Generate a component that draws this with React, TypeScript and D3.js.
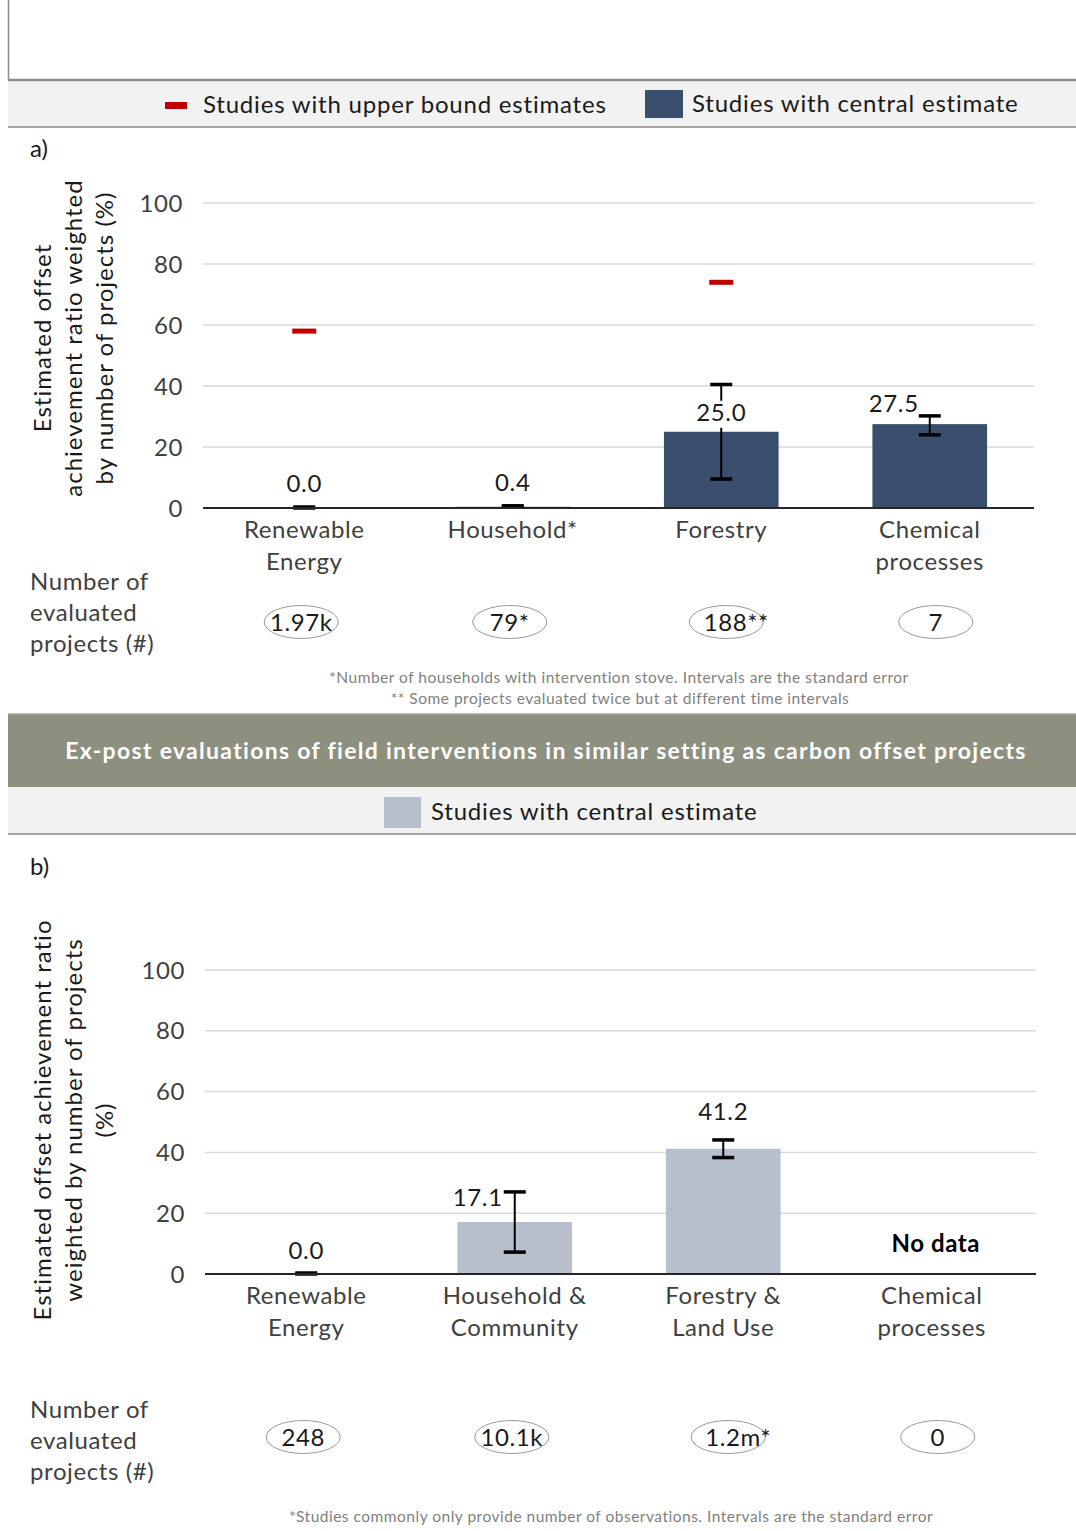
import React from "react";
import * as d3 from "d3";

// panel a: carbon offset project evaluations
const catsA = ["Renewable|Energy", "Household*", "Forestry", "Chemical|processes"];
const centralA = [0.0, 0.4, 25.0, 27.5];
const errLowA = [0, 0.4, 9.5, 24.0];
const errHighA = [0, 0.4, 40.5, 30.2];
const upperA = [58, null, 74, null];
const countsA = ["1.97k", "79*", "188**", "7"];

// panel b: ex-post field interventions
const catsB = ["Renewable|Energy", "Household &|Community", "Forestry &|Land Use", "Chemical|processes"];
const centralB = [0.0, 17.1, 41.2, null];
const errLowB = [0, 7.2, 38.3, null];
const errHighB = [0, 27.0, 44.1, null];
const countsB = ["248", "10.1k", "1.2m*", "0"];

const ticks = [0, 20, 40, 60, 80, 100];

const FONT = "Lato, 'Open Sans', sans-serif";
const TXT = "#404040";
const NAVY = "#3a4f6e";
const LIGHT = "#b8bfcc";
const RED = "#c00000";
const LS = 0.6;

// label nudges (px) like the hand-moved excel labels
const dxA = [0, 0, 0, -36];
const dyA = [-16, -16, -11, -12];
const dxB = [0, -37, 0, 0];
const dyB = [-15, -16, -20, 0];
const aboveErrB = [false, false, true, false];

const Panel = ({ cats, central, lo, hi, upper, counts, color, y0, y100, x0, x1, dx, dy, aboveErr, noData, nOff, eOff }: any) => {
  const y = d3.scaleLinear().domain([0, 100]).range([y0, y100]);
  const x = d3.scaleBand().domain(cats).range([x0, x1]).paddingInner(0.45).paddingOuter(0.225);
  const bw = x.bandwidth();
  const cx = (c: string) => (x(c) as number) + bw / 2;
  return (
    <g fontFamily={FONT} letterSpacing={LS}>
      {ticks.map(t => (
        <g key={t}>
          {t > 0 && <line x1={x0 + 3} x2={x1} y1={y(t)} y2={y(t)} stroke="#d9d9d9" strokeWidth={1.5} />}
          <text x={x0 - 17} y={y(t)} dy="0.36em" textAnchor="end" fontSize={24} fill={TXT}>{t}</text>
        </g>
      ))}
      {cats.map((c: string, i: number) => {
        const v = central[i];
        const X = cx(c);
        if (v == null) return null;
        const top = y(v);
        const ly = aboveErr[i] ? y(hi[i]) + dy[i] : top + dy[i];
        return (
          <g key={c}>
            <rect x={x(c)} y={top} width={bw} height={y0 - top} fill={color} />
            {v > 1 && <line x1={X} x2={X} y1={y(hi[i])} y2={y(lo[i])} stroke="#000" strokeWidth={2} />}
            <line x1={X - 11} x2={X + 11} y1={y(hi[i]) - (v > 1 ? 0 : 1)} y2={y(hi[i]) - (v > 1 ? 0 : 1)} stroke="#000" strokeWidth={3.5} />
            <line x1={X - 11} x2={X + 11} y1={y(lo[i])} y2={y(lo[i])} stroke="#000" strokeWidth={3.5} />
            {v > 1 && !aboveErr[i] && dx[i] === 0 && (
              <rect x={X - 27} y={ly - 20} width={54} height={27} fill="#fff" />
            )}
            <text x={X + dx[i]} y={ly} textAnchor="middle" fontSize={24} fill="#1a1a1a">{v.toFixed(1)}</text>
          </g>
        );
      })}
      {cats.map((c: string, i: number) =>
        upper && upper[i] != null ? (
          <rect key={"u" + c} x={cx(c) - 12} y={y(upper[i]) - 2.5} width={24} height={5} fill={RED} />
        ) : null
      )}
      {noData && <text x={cx(cats[3]) + 4} y={y(0) - 22} textAnchor="middle" fontSize={24} fontWeight="bold" fill="#000">No data</text>}
      <line x1={x0 + 3} x2={x1} y1={y0} y2={y0} stroke="#262626" strokeWidth={2} />
      {cats.map((c: string) =>
        c.split("|").map((ln, k) => (
          <text key={c + k} x={cx(c)} y={y0 + 30 + k * 32} textAnchor="middle" fontSize={24} fill={TXT}>{ln}</text>
        ))
      )}
      {["Number of", "evaluated", "projects (#)"].map((t, k) => (
        <text key={t} x={30} y={y0 + nOff + k * 31} fontSize={24} fill={TXT}>{t}</text>
      ))}
      {cats.map((c: string, i: number) => (
        <g key={"n" + c}>
          <ellipse cx={cx(c) + (i === 2 ? 5 : i === 3 ? 6 : -3)} cy={y0 + eOff} rx={37} ry={16.5} fill="none" stroke="#9a9a9a" strokeWidth={1} />
          <text x={cx(c) + (i === 2 ? 15 : i === 3 ? 6 : -3)} y={y0 + eOff} dy="0.36em" textAnchor="middle" fontSize={24} fill="#1a1a1a">{counts[i]}</text>
        </g>
      ))}
    </g>
  );
};

const YTitle = ({ lines, cy }: { lines: string[]; cy: number }) => (
  <g fontFamily={FONT} fontSize={24} letterSpacing={1} fill="#1a1a1a">
    {lines.map((ln, k) => (
      <text key={k} transform={`translate(${51 + k * 31},${cy}) rotate(-90)`} textAnchor="middle">{ln}</text>
    ))}
  </g>
);

export default function App() {
  return (
    <svg width={1076} height={1531} style={{ position: "absolute", left: 0, top: 0, background: "#fff" }}>
      {/* top frame */}
      <line x1={8.5} x2={8.5} y1={0} y2={80} stroke="#8c8c8c" strokeWidth={1.5} />
      <rect x={8} y={80} width={1068} height={47} fill="#f2f2f2" />
      <line x1={8} x2={1076} y1={80} y2={80} stroke="#8c8c8c" strokeWidth={2.5} />
      <line x1={8} x2={1076} y1={127} y2={127} stroke="#a6a6a6" strokeWidth={2} />
      <g fontFamily={FONT} fontSize={24} letterSpacing={0.8} fill="#1a1a1a">
        <rect x={165} y={102} width={22} height={7} fill={RED} />
        <text x={203} y={113}>Studies with upper bound estimates</text>
        <rect x={645} y={90} width={38} height={28} fill={NAVY} />
        <text x={692} y={112}>Studies with central estimate</text>
      </g>
      <text x={30} y={157} fontFamily={FONT} fontSize={24} fill="#1a1a1a">a)</text>
      <YTitle lines={["Estimated offset", "achievement ratio weighted", "by number of projects (%)"]} cy={338} />
      <Panel cats={catsA} central={centralA} lo={errLowA} hi={errHighA} upper={upperA} counts={countsA}
        color={NAVY} y0={508} y100={203} x0={200} x1={1034} dx={dxA} dy={dyA} aboveErr={[false, false, false, false]}
        nOff={82} eOff={114} />
      <g fontFamily={FONT} fontSize={15.5} letterSpacing={0.5} fill="#7f7f7f" textAnchor="middle">
        <text x={619} y={683}>*Number of households with intervention stove. Intervals are the standard error</text>
        <text x={620} y={704}>** Some projects evaluated twice but at different time intervals</text>
      </g>

      {/* banner */}
      <rect x={8} y={714} width={1068} height={73} fill="#8d8f7f" />
      <line x1={8} x2={1076} y1={714} y2={714} stroke="#a6a6a6" strokeWidth={1.5} />
      <text x={546} y={759} textAnchor="middle" fontFamily={FONT} fontWeight="bold" fontSize={23} letterSpacing={1.3} fill="#fff">
        Ex-post evaluations of field interventions in similar setting as carbon offset projects
      </text>
      <rect x={8} y={787} width={1068} height={46} fill="#f2f2f2" />
      <line x1={8} x2={1076} y1={834} y2={834} stroke="#a6a6a6" strokeWidth={2} />
      <rect x={384} y={797} width={37} height={31} fill={LIGHT} />
      <text x={431} y={820} fontFamily={FONT} fontSize={24} letterSpacing={0.8} fill="#1a1a1a">Studies with central estimate</text>
      <text x={30} y={875} fontFamily={FONT} fontSize={24} fill="#1a1a1a">b)</text>

      <YTitle lines={["Estimated offset achievement ratio", "weighted by number of projects", "(%)"]} cy={1120} />
      <Panel cats={catsB} central={centralB} lo={errLowB} hi={errHighB} upper={null} counts={countsB}
        color={LIGHT} y0={1274} y100={970} x0={202} x1={1036} dx={dxB} dy={dyB} aboveErr={aboveErrB} noData
        nOff={144} eOff={163} />
      <text x={611} y={1522} textAnchor="middle" fontFamily={FONT} fontSize={15.5} letterSpacing={0.5} fill="#7f7f7f">
        *Studies commonly only provide number of observations. Intervals are the standard error
      </text>
    </svg>
  );
}
